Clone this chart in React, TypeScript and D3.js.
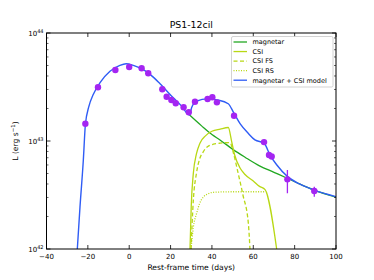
import React, { useEffect, useRef } from 'react'
import * as d3 from 'd3'

// observed points (rest-frame days, log10 L)
const obsDays = [-21.2, -15.1, -6.7, 0.0, 6.0, 9.2, 16.0, 18.1, 20.4, 22.5, 26.3, 28.8, 31.8, 37.9, 40.2, 42.4, 50.7, 65.2, 67.6, 68.9, 76.5, 89.5]
const obsLogL = [43.16, 43.497, 43.657, 43.685, 43.673, 43.627, 43.479, 43.41, 43.38, 43.349, 43.312, 43.266, 43.364, 43.389, 43.405, 43.358, 43.234, 42.99, 42.87, 42.857, 42.645, 42.537]
const obsErrLo = [0, 0, 0, 0, 0, 0, 0, 0, 0, 0, 0, 0, 0, 0, 0, 0, 0, 0, 0, 0, 42.516, 42.484]
const obsErrHi = [0, 0, 0, 0, 0, 0, 0, 0, 0, 0, 0, 0, 0, 0, 0, 0, 0, 0, 0, 0, 42.731, 42.577]

// model curves: [day, log10 L]
const modelTotal: [number, number][] = [
  [-25.1, 42.0], [-23.8, 42.39], [-22.2, 42.82], [-21.2, 43.15], [-19.5, 43.32], [-17.4, 43.43],
  [-14.1, 43.54], [-9.3, 43.645], [-4.5, 43.7], [-1.5, 43.715], [2, 43.7], [6.8, 43.66],
  [10.5, 43.61], [14.9, 43.53], [21.3, 43.4], [25, 43.33], [29.2, 43.24], [30.2, 43.31],
  [32.6, 43.37], [37.9, 43.39], [42.7, 43.38], [47.9, 43.345], [50.3, 43.27], [53.6, 43.16],
  [57.6, 43.07], [60.8, 43.01], [65.2, 42.98], [68.1, 42.87], [71.3, 42.78], [76.6, 42.67],
  [82.6, 42.6], [89.5, 42.545], [100, 42.485],
]
const magnetar: [number, number][] = [
  [29.2, 43.24], [35, 43.14], [40, 43.06], [43.9, 43.01], [50.3, 42.92], [56, 42.85],
  [63, 42.77], [70, 42.71], [76.4, 42.655], [82.6, 42.6], [89.4, 42.545], [100, 42.48],
]
const csi: [number, number][] = [
  [29.4, 42.0], [30, 42.4], [31, 42.7], [32.5, 42.88], [34.2, 42.98], [37, 43.05], [40, 43.09],
  [44, 43.11], [47.9, 43.125], [49.6, 42.99], [51, 42.87], [53.6, 42.75], [56, 42.69],
  [60, 42.63], [63, 42.58], [65.7, 42.55], [71.3, 42.0],
]
const csiFS: [number, number][] = [
  [29.9, 42.0], [31, 42.45], [32.5, 42.7], [34, 42.83], [35.8, 42.9], [38, 42.95], [40.7, 42.97],
  [44, 42.98], [48.7, 42.985], [50.5, 42.88], [52.7, 42.7], [55, 42.5], [57.6, 42.24], [58.4, 42.0],
]
const csiRS: [number, number][] = [
  [29.9, 42.0], [31, 42.2], [32.6, 42.33], [34, 42.42], [35.8, 42.48], [38, 42.51],
  [40.7, 42.525], [50, 42.53], [60, 42.53], [65.7, 42.53],
]

const xTicks = [-40, -20, 0, 20, 40, 60, 80, 100]
const yDecades = [42, 43, 44]
const legendLabels = ['magnetar', 'CSI', 'CSI FS', 'CSI RS', 'magnetar + CSI model']

const C_MAG = '#22a822'
const C_CSI = '#b8d814'
const C_TOT = '#2f5cf5'
const C_OBS = '#a425f2'

const App = () => {
  const svgRef = useRef<SVGSVGElement>(null)

  useEffect(() => {
    const svg = d3.select(svgRef.current)
    svg.selectAll('*').remove()
    const font = 'DejaVu Sans, sans-serif'

    const left = 46.5, right = 336, top = 33, bottom = 249
    const x = d3.scaleLinear().domain([-40, 100]).range([left, right])
    const y = d3.scaleLog().domain([1e42, 1e44]).range([bottom, top])
    const ly = (v: number) => y(Math.pow(10, v))

    const line = d3.line<[number, number]>()
      .x(d => x(d[0]))
      .y(d => ly(d[1]))
      .curve(d3.curveMonotoneX)

    const plot = svg.append('g')
    svg.append('clipPath').attr('id', 'clip')
      .append('rect').attr('x', left).attr('y', top).attr('width', right - left).attr('height', bottom - top)
    plot.attr('clip-path', 'url(#clip)')

    plot.append('path').attr('d', line(magnetar)).attr('fill', 'none').attr('stroke', C_MAG).attr('stroke-width', 1.3)
    plot.append('path').attr('d', line(csi)).attr('fill', 'none').attr('stroke', C_CSI).attr('stroke-width', 1.3)
    plot.append('path').attr('d', line(csiFS)).attr('fill', 'none').attr('stroke', C_CSI).attr('stroke-width', 1.3).attr('stroke-dasharray', '4,2.5')
    plot.append('path').attr('d', line(csiRS)).attr('fill', 'none').attr('stroke', C_CSI).attr('stroke-width', 1.3).attr('stroke-dasharray', '1,1.5')
    plot.append('path').attr('d', line(modelTotal)).attr('fill', 'none').attr('stroke', C_TOT).attr('stroke-width', 1.4)

    // error bars
    obsDays.forEach((d, i) => {
      if (obsErrLo[i] > 0) {
        plot.append('line')
          .attr('x1', x(d)).attr('x2', x(d))
          .attr('y1', ly(obsErrLo[i])).attr('y2', ly(obsErrHi[i]))
          .attr('stroke', C_OBS).attr('stroke-width', 1.3)
      }
    })
    plot.selectAll('circle.obs')
      .data(obsDays)
      .enter()
      .append('circle')
      .attr('cx', d => x(d))
      .attr('cy', (d, i) => ly(obsLogL[i]))
      .attr('r', 3.2)
      .attr('fill', C_OBS)

    // frame
    svg.append('rect')
      .attr('x', left).attr('y', top).attr('width', right - left).attr('height', bottom - top)
      .attr('fill', 'none').attr('stroke', '#000').attr('stroke-width', 1)

    // x ticks (inside, top & bottom)
    xTicks.forEach(t => {
      const px = x(t)
      svg.append('line').attr('x1', px).attr('x2', px).attr('y1', bottom).attr('y2', bottom - 4).attr('stroke', '#000').attr('stroke-width', 0.8)
      svg.append('line').attr('x1', px).attr('x2', px).attr('y1', top).attr('y2', top + 4).attr('stroke', '#000').attr('stroke-width', 0.8)
      svg.append('text').attr('x', px).attr('y', bottom + 10)
        .attr('text-anchor', 'middle').style('font', `7px ${font}`).attr('fill', '#000')
        .text(t < 0 ? `\u2212${Math.abs(t)}` : `${t}`)
    })

    // y ticks
    yDecades.forEach((e, i) => {
      const py = ly(e)
      svg.append('line').attr('x1', left).attr('x2', left + 4).attr('y1', py).attr('y2', py).attr('stroke', '#000').attr('stroke-width', 0.8)
      svg.append('line').attr('x1', right).attr('x2', right - 4).attr('y1', py).attr('y2', py).attr('stroke', '#000').attr('stroke-width', 0.8)
      const tx = svg.append('text').attr('x', left - 3).attr('y', py + 3)
        .attr('text-anchor', 'end').style('font', `7px ${font}`).attr('fill', '#000')
      tx.append('tspan').text('10')
      tx.append('tspan').attr('dy', -3.5).style('font-size', '5px').text(`${e}`)
      if (i < yDecades.length - 1) {
        for (let m = 2; m <= 9; m++) {
          const pm = y(m * Math.pow(10, e))
          svg.append('line').attr('x1', left).attr('x2', left + 2).attr('y1', pm).attr('y2', pm).attr('stroke', '#000').attr('stroke-width', 0.6)
          svg.append('line').attr('x1', right).attr('x2', right - 2).attr('y1', pm).attr('y2', pm).attr('stroke', '#000').attr('stroke-width', 0.6)
        }
      }
    })

    // labels
    svg.append('text').attr('x', (left + right) / 2).attr('y', 28)
      .attr('text-anchor', 'middle').style('font', `9.4px ${font}`).text('PS1-12cil')
    svg.append('text').attr('x', (left + right) / 2).attr('y', 269.5)
      .attr('text-anchor', 'middle').style('font', `7.6px ${font}`).text('Rest-frame time (days)')
    const yl = svg.append('text')
      .attr('transform', `translate(18, ${(top + bottom) / 2}) rotate(-90)`)
      .attr('text-anchor', 'middle').style('font', `7.6px ${font}`)
    yl.append('tspan').text('L (erg s')
    yl.append('tspan').attr('dy', -3).style('font-size', '5.5px').text('\u22121')
    yl.append('tspan').attr('dy', 3).text(')')

    // legend
    const lg = svg.append('g')
    lg.append('rect').attr('x', 231.5).attr('y', 36.5).attr('width', 101.5).attr('height', 50.5)
      .attr('rx', 1.5).attr('fill', '#fff').attr('stroke', '#c8c8c8').attr('stroke-width', 0.8)
    const styles = [
      { c: C_MAG, dash: null },
      { c: C_CSI, dash: null },
      { c: C_CSI, dash: '4,2.5' },
      { c: C_CSI, dash: '1,1.5' },
      { c: C_TOT, dash: null },
    ]
    legendLabels.forEach((lab, i) => {
      const yy = 42 + i * 9.55
      const l = lg.append('line').attr('x1', 233.5).attr('x2', 247).attr('y1', yy).attr('y2', yy)
        .attr('stroke', styles[i].c).attr('stroke-width', 1.3)
      if (styles[i].dash) l.attr('stroke-dasharray', styles[i].dash as string)
      lg.append('text').attr('x', 252.5).attr('y', yy + 2.3)
        .style('font', `6.5px ${font}`).attr('fill', '#000').text(lab)
    })
  }, [])

  return (
    <div style={{ position: 'fixed', left: 0, top: 0 }}>
      <svg ref={svgRef} width={374} height={280} style={{ display: 'block', background: '#fff' }}></svg>
    </div>
  )
}

export default App
